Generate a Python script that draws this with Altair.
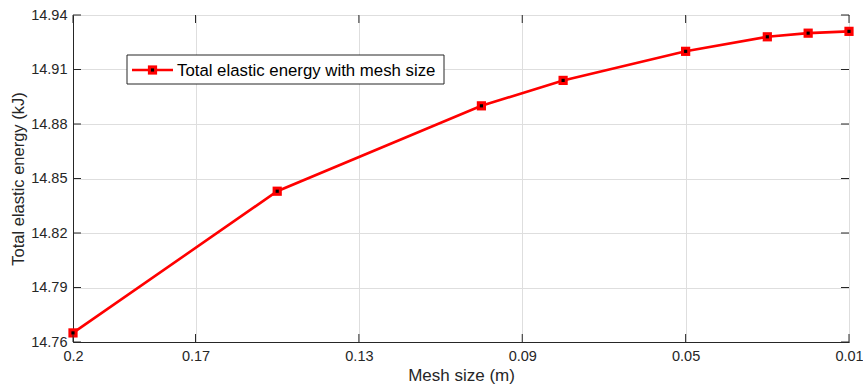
import altair as alt
import pandas as pd

mesh = [0.2, 0.15, 0.1, 0.08, 0.05, 0.03, 0.02, 0.01]
energy = [14.765, 14.843, 14.890, 14.904, 14.920, 14.928, 14.930, 14.931]
x_ticks = [0.2, 0.17, 0.13, 0.09, 0.05, 0.01]
y_ticks = [14.76, 14.79, 14.82, 14.85, 14.88, 14.91, 14.94]
legend_label = "Total elastic energy with mesh size"

W, H = 776, 327
FONT = "Liberation Sans"
TXT = "#262626"
RED = "#ff0000"

df = pd.DataFrame({"mesh": mesh, "energy": energy})
xt = pd.DataFrame({"t": x_ticks})
yt = pd.DataFrame({"t": y_ticks})
one = pd.DataFrame({"label": [legend_label]})

xscale = alt.Scale(domain=[0.01, 0.2], reverse=True, nice=False, zero=False)
yscale = alt.Scale(domain=[14.76, 14.94], nice=False, zero=False)

xaxis = alt.Axis(values=x_ticks, title="Mesh size (m)", grid=True, ticks=False,
                 labelExpr="format(datum.value, '.2~f')", labelFontSize=14.5,
                 titleFontSize=17, labelPadding=7, titlePadding=5,
                 labelFont=FONT, titleFont=FONT, labelColor=TXT, titleColor=TXT,
                 titleFontWeight="normal", domainColor=TXT, gridColor="#dedede",
                 labelFlush=False)
yaxis = alt.Axis(values=y_ticks, title="Total elastic energy (kJ)", grid=True, ticks=False,
                 format=".2f", labelFontSize=14.5, titleFontSize=16.5, labelPadding=6,
                 titlePadding=4, labelFont=FONT, titleFont=FONT, labelColor=TXT,
                 titleColor=TXT, titleFontWeight="normal", domainColor=TXT,
                 gridColor="#dedede", labelFlush=False)

base = alt.Chart(df)
line = base.mark_line(color=RED, strokeWidth=2.6).encode(
    x=alt.X("mesh:Q", scale=xscale, axis=xaxis),
    y=alt.Y("energy:Q", scale=yscale, axis=yaxis),
)
pts = base.mark_point(shape="square", filled=True, color=RED, size=85, opacity=1).encode(
    x=alt.X("mesh:Q", scale=xscale), y=alt.Y("energy:Q", scale=yscale))
dots = base.mark_point(shape="square", filled=True, color="black", size=10, opacity=1).encode(
    x=alt.X("mesh:Q", scale=xscale), y=alt.Y("energy:Q", scale=yscale))

tb = alt.Chart(xt).mark_rule(color=TXT, strokeWidth=1).encode(
    x=alt.X("t:Q", scale=xscale), y=alt.value(H), y2=alt.value(H - 8))
tt = alt.Chart(xt).mark_rule(color=TXT, strokeWidth=1).encode(
    x=alt.X("t:Q", scale=xscale), y=alt.value(0), y2=alt.value(8))
tl = alt.Chart(yt).mark_rule(color=TXT, strokeWidth=1).encode(
    y=alt.Y("t:Q", scale=yscale), x=alt.value(0), x2=alt.value(8))
tr = alt.Chart(yt).mark_rule(color=TXT, strokeWidth=1).encode(
    y=alt.Y("t:Q", scale=yscale), x=alt.value(W), x2=alt.value(W - 8))

leg_box = alt.Chart(one).mark_rect(fill="white", stroke=TXT, strokeWidth=1).encode(
    x=alt.value(54), x2=alt.value(371), y=alt.value(40), y2=alt.value(69))
leg_line = alt.Chart(one).mark_rule(color=RED, strokeWidth=2.6).encode(
    x=alt.value(59), x2=alt.value(100), y=alt.value(55))
leg_pt = alt.Chart(one).mark_point(shape="square", filled=True, color=RED, size=85, opacity=1).encode(
    x=alt.value(79.5), y=alt.value(55))
leg_dot = alt.Chart(one).mark_point(shape="square", filled=True, color="black", size=10, opacity=1).encode(
    x=alt.value(79.5), y=alt.value(55))
leg_txt = alt.Chart(one).mark_text(align="left", baseline="middle", font=FONT, fontSize=16.8,
                                   color="black").encode(
    x=alt.value(104), y=alt.value(55.5), text="label:N")

chart = alt.layer(line, pts, dots, tb, tt, tl, tr,
                  leg_box, leg_line, leg_pt, leg_dot, leg_txt).properties(
    width=W, height=H,
    autosize=alt.AutoSizeParams(type="none"),
    padding={"left": 73, "top": 15, "right": 14, "bottom": 49},
    background="white",
).configure_view(stroke=TXT, strokeWidth=1)

chart.save("out.html", embed_options={"renderer": "svg", "actions": False})
